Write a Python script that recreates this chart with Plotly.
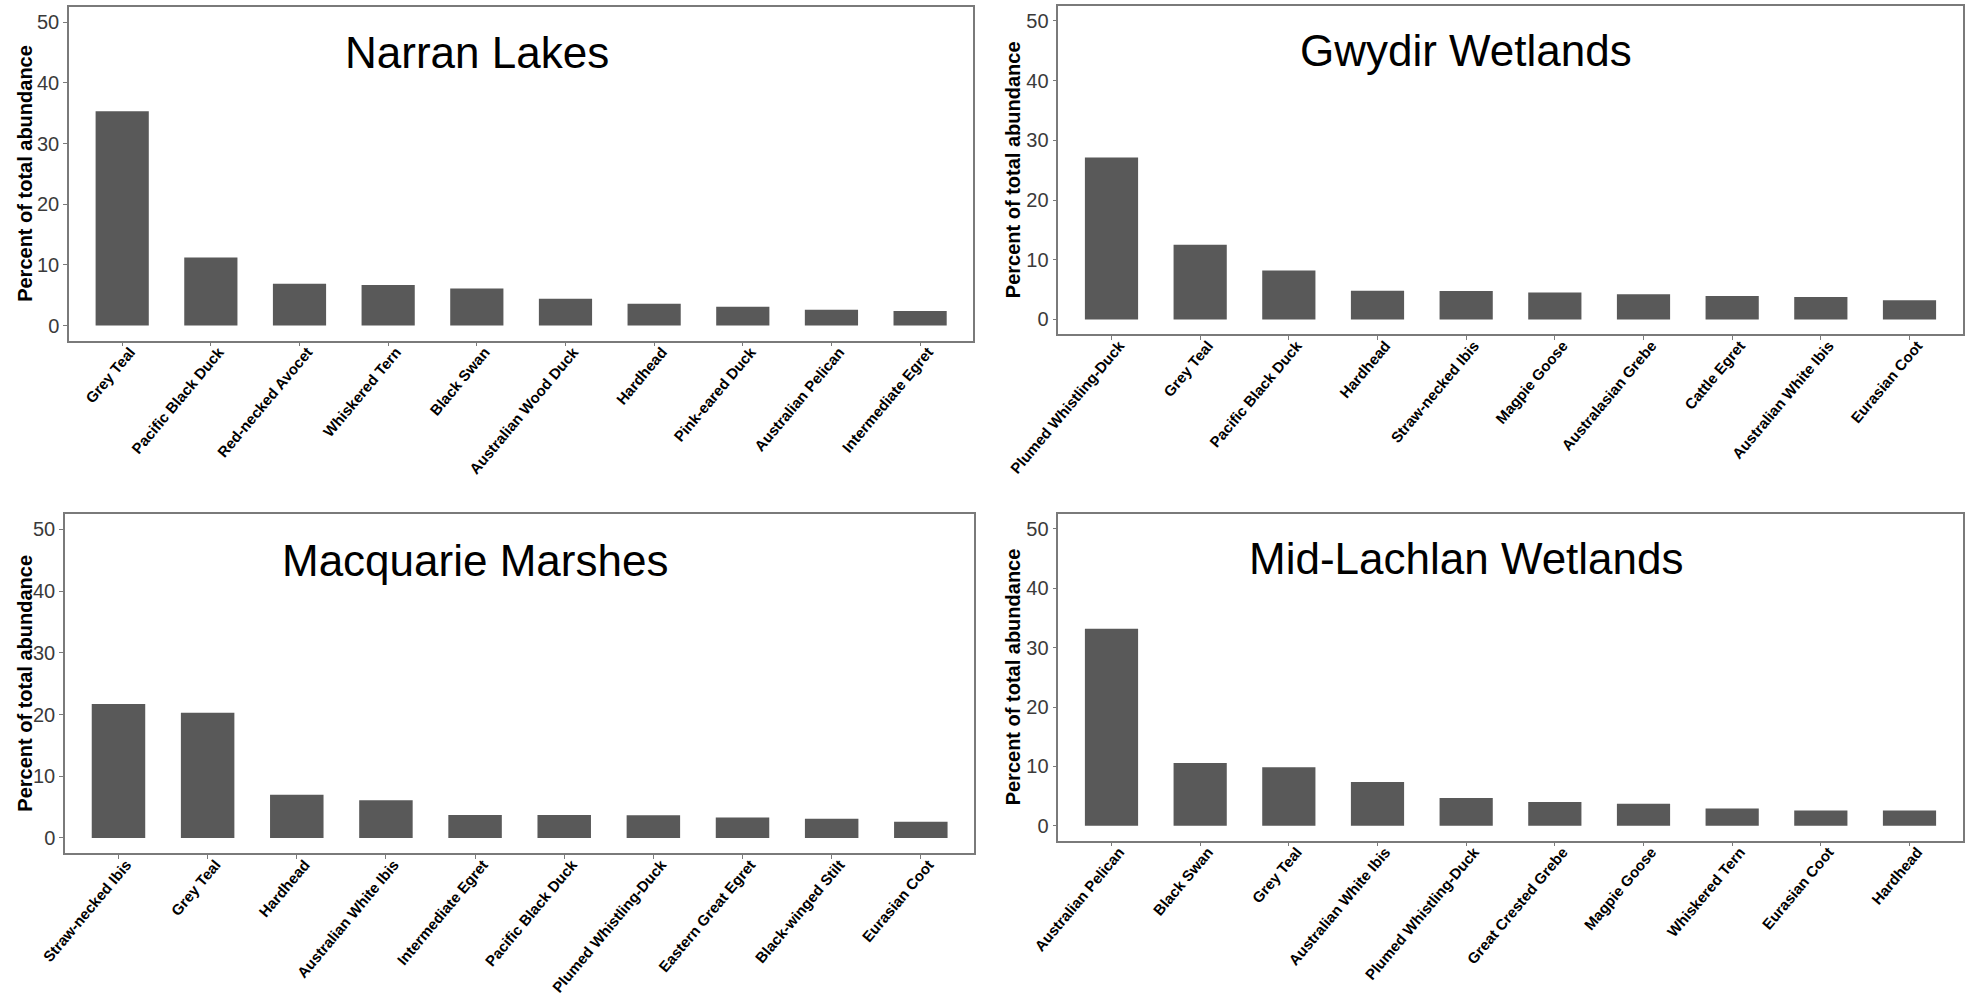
import plotly.graph_objects as go

# Ten most abundant waterbird species per wetland (percent of total abundance)
narran_species = ["Grey Teal", "Pacific Black Duck", "Red-necked Avocet", "Whiskered Tern",
                  "Black Swan", "Australian Wood Duck", "Hardhead", "Pink-eared Duck",
                  "Australian Pelican", "Intermediate Egret"]
narran_pct = [35.3, 11.2, 6.9, 6.7, 6.1, 4.4, 3.6, 3.1, 2.6, 2.4]

gwydir_species = ["Plumed Whistling-Duck", "Grey Teal", "Pacific Black Duck", "Hardhead",
                  "Straw-necked Ibis", "Magpie Goose", "Australasian Grebe", "Cattle Egret",
                  "Australian White Ibis", "Eurasian Coot"]
gwydir_pct = [27.1, 12.5, 8.2, 4.8, 4.75, 4.5, 4.2, 3.9, 3.75, 3.2]

macquarie_species = ["Straw-necked Ibis", "Grey Teal", "Hardhead", "Australian White Ibis",
                     "Intermediate Egret", "Pacific Black Duck", "Plumed Whistling-Duck",
                     "Eastern Great Egret", "Black-winged Stilt", "Eurasian Coot"]
macquarie_pct = [21.7, 20.3, 7.0, 6.1, 3.7, 3.7, 3.65, 3.3, 3.1, 2.6]

lachlan_species = ["Australian Pelican", "Black Swan", "Grey Teal", "Australian White Ibis",
                   "Plumed Whistling-Duck", "Great Crested Grebe", "Magpie Goose",
                   "Whiskered Tern", "Eurasian Coot", "Hardhead"]
lachlan_pct = [33.2, 10.6, 9.85, 7.4, 4.7, 4.0, 3.7, 2.9, 2.6, 2.6]

panel_titles = ["Narran Lakes", "Gwydir Wetlands", "Macquarie Marshes", "Mid-Lachlan Wetlands"]
y_ticks = [0, 10, 20, 30, 40, 50]
y_title = "Percent of total abundance"

W, H = 1970, 995
FONT = "Liberation Sans, Arial, sans-serif"
BAR = "#595959"
FRAME = "#7a7a7a"

# pixel boxes of each panel: (left, right, top, bottom)
boxes = [(69, 973.3, 7, 340.7),
         (1058.3, 1962.7, 6, 334.3),
         (65, 974.3, 514, 853.3),
         (1058.3, 1962.7, 514, 840.7)]
ytitle_x = [25, 1013, 25, 1013]

panels = [(narran_species, narran_pct), (gwydir_species, gwydir_pct),
          (macquarie_species, macquarie_pct), (lachlan_species, lachlan_pct)]

fig = go.Figure()
annotations = []
layout_axes = {}

for i, ((cats, vals), title, (l, r, t, b)) in enumerate(zip(panels, panel_titles, boxes)):
    n = "" if i == 0 else str(i + 1)
    xa, ya = "x" + n, "y" + n
    fig.add_trace(go.Bar(x=cats, y=vals, xaxis=xa, yaxis=ya, width=0.6,
                         marker=dict(color=BAR, line=dict(width=0)),
                         showlegend=False, hoverinfo="x+y"))
    layout_axes["xaxis" + n] = dict(
        domain=[l / W, r / W], anchor=ya, type="category", automargin=False,
        categoryorder="array", categoryarray=cats, range=[-0.6, len(cats) - 0.4],
        showline=True, linecolor=FRAME, linewidth=1.5, mirror=True,
        ticks="outside", ticklen=4, tickcolor=FRAME, tickwidth=1.2,
        tickangle=-50, showgrid=False, zeroline=False,
        ticklabelshift=8, ticklabelstandoff=-9,
        tickfont=dict(family=FONT, size=15, color="black", weight="bold"))
    layout_axes["yaxis" + n] = dict(
        domain=[1 - b / H, 1 - t / H], anchor=xa, range=[-2.5, 52.5], automargin=False,
        tickvals=y_ticks, showline=True, linecolor=FRAME, linewidth=1.5, mirror=True,
        ticks="outside", ticklen=4, tickcolor=FRAME, tickwidth=1.2,
        showgrid=False, zeroline=False,
        tickfont=dict(family=FONT, size=20, color="#3a3a3a"))
    # panel heading placed in data coordinates
    annotations.append(dict(x=cats[4], y=45, xref=xa, yref=ya, text=title,
                            showarrow=False, xanchor="center", yanchor="middle",
                            font=dict(family=FONT, size=44, color="black")))
    annotations.append(dict(x=ytitle_x[i] / W, y=1 - (t + b) / 2 / H, xref="paper",
                            yref="paper", text=y_title, textangle=-90, showarrow=False,
                            xanchor="center", yanchor="middle",
                            font=dict(family=FONT, size=20, color="black", weight="bold")))

fig.update_layout(width=W, height=H, margin=dict(l=0, r=0, t=0, b=0, autoexpand=False),
                  paper_bgcolor="white", plot_bgcolor="white",
                  bargap=0.4, annotations=annotations, **layout_axes)

fig.write_html("out.html")
